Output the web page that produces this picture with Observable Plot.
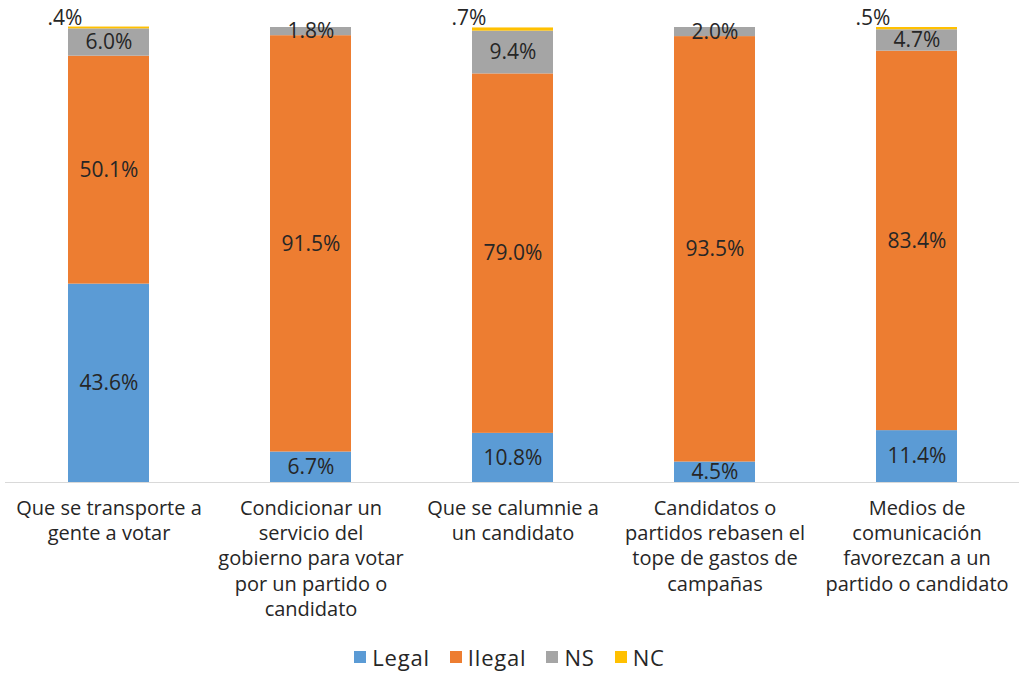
<!DOCTYPE html>
<html>
<head>
<meta charset="utf-8">
<script src="https://cdn.jsdelivr.net/npm/d3@7"></script>
<script src="https://cdn.jsdelivr.net/npm/@observablehq/plot@0.6"></script>
<style>
  body { margin: 0; background: #fff; font-family: "Open Sans", sans-serif; }
  #legend { display: flex; justify-content: center; align-items: center; gap: 20px; height: 36px; font-size: 22px; color: #262626; letter-spacing: 0.8px; }
  #legend span.sw { display: inline-block; width: 12px; height: 12px; margin-right: 6px; }
  #legend div { display: flex; align-items: center; }
</style>
</head>
<body>
<div id="chart"></div>
<div id="legend"></div>
<script>
const categories = [
  "Que se transporte a\ngente a votar",
  "Condicionar un\nservicio del\ngobierno para votar\npor un partido o\ncandidato",
  "Que se calumnie a\nun candidato",
  "Candidatos o\npartidos rebasen el\ntope de gastos de\ncampañas",
  "Medios de\ncomunicación\nfavorezcan a un\npartido o candidato"
];
const seriesNames = ["Legal", "Ilegal", "NS", "NC"];
const legal  = [43.6, 6.7, 10.8, 4.5, 11.4];
const ilegal = [50.1, 91.5, 79.0, 93.5, 83.4];
const ns     = [6.0, 1.8, 9.4, 2.0, 4.7];
const nc     = [0.4, 0, 0.7, 0, 0.5];
const colors = ["#5B9BD5", "#ED7D31", "#A5A5A5", "#FFC000"];

const seriesValues = [legal, ilegal, ns, nc];
const data = [];
seriesValues.forEach((vals, si) => {
  vals.forEach((v, ci) => data.push({cat: categories[ci], series: seriesNames[si], value: v}));
});

const fmt = v => v.toFixed(1).replace(/^0\./, ".") + "%";
const ncData = data.filter(d => d.series === "NC" && d.value > 0);

const plot = Plot.plot({
  width: 1019,
  height: 639,
  marginLeft: 5,
  marginRight: 0,
  marginTop: 27,
  marginBottom: 157,
  style: {fontFamily: "'Open Sans', sans-serif", color: "#262626"},
  x: {domain: categories, paddingInner: 0.6, paddingOuter: 0.3, label: null},
  y: {domain: [0, 100], axis: null},
  color: {domain: seriesNames, range: colors},
  marks: [
    Plot.barY(data, {x: "cat", y: "value", fill: "series", z: "series", order: seriesNames}),
    Plot.ruleY([0], {stroke: "#d9d9d9", strokeWidth: 1}),
    Plot.text(data, Plot.stackY({x: "cat", y: "value", z: "series", order: seriesNames,
      text: d => (d.series !== "NC" && d.value > 0) ? fmt(d.value) : "",
      fontSize: 21, fill: "#262626"})),
    Plot.text(ncData, {x: "cat", y: () => 100, text: d => fmt(d.value), dx: -44, dy: -9, fontSize: 21, fill: "#262626"}),
    Plot.axisX({tickSize: 0, tickPadding: 14, fontSize: 20, lineHeight: 1.27, label: null, fill: "#262626"})
  ]
});
document.getElementById("chart").appendChild(plot);

const legend = document.getElementById("legend");
seriesNames.forEach((s, i) => {
  const item = document.createElement("div");
  const sw = document.createElement("span");
  sw.className = "sw";
  sw.style.background = colors[i];
  item.appendChild(sw);
  item.appendChild(document.createTextNode(s));
  legend.appendChild(item);
});
</script>
</body>
</html>
